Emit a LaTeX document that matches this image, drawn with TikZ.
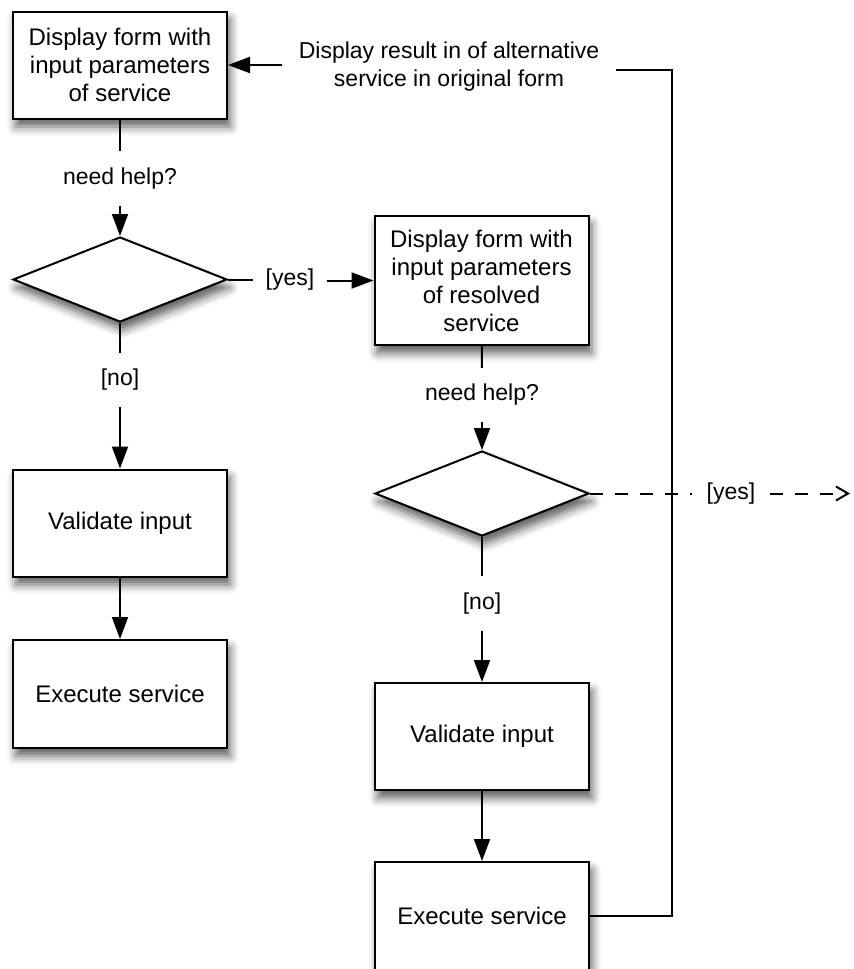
\documentclass[tikz,border=0pt]{standalone}
\usepackage{fontspec}
\setmainfont{Liberation Sans}
\usetikzlibrary{arrows.meta, positioning, shapes.geometric, shadows.blur}

\begin{document}
\begin{tikzpicture}[
    x=0.5pt, y=-0.5pt,
    soft/.style={blur shadow={shadow xshift=1.5pt, shadow yshift=-4pt, shadow blur radius=4.5pt, shadow opacity=65}},
    action/.style={draw, line width=1pt, fill=white, soft, minimum width=107pt, minimum height=53.5pt, inner sep=2pt, align=center, font=\fontsize{12}{14}\selectfont},
    decision/.style={draw, diamond, line width=1pt, fill=white, soft, minimum width=107pt, minimum height=42.5pt, inner sep=0pt},
    guard/.style={inner xsep=6pt, inner ysep=8pt, align=center, font=\fontsize{11.5}{14}\selectfont},
    line/.style={line width=1pt},
    arrow/.style={-{Triangle[length=11pt, width=8pt]}, line width=1pt},
    dasharrow/.style={dash pattern=on 6.5pt off 6pt, line width=1pt}
]
\useasboundingbox (0,0) rectangle (853,969);

% Original service
\node[action] (form1) at (120,65) {Display form with\\input parameters\\of service};
\node[guard] (help1) at (120,178.5) {need help?};
\node[decision] (ask1) at (120,279.5) {};
\node[guard] (no1) at (120,380) {[no]};
\node[action] (valid1) at (120,523) {Validate input};
\node[action, minimum height=54pt] (exec1) at (120,694) {Execute service};

% Resolved service
\node[guard] (yes1) at (290,280) {[yes]};
\node[action, minimum height=64.5pt] (form2) at (481.5,280.5) {Display form with\\input parameters\\of resolved\\service};
\node[guard] (help2) at (482,395) {need help?};
\node[decision] (ask2) at (482,493.5) {};
\node[guard] (no2) at (482,603.5) {[no]};
\node[action] (valid2) at (482,736.5) {Validate input};
\node[action, minimum height=54pt] (exec2) at (482,916) {Execute service};

% Return to original form
\node[guard, inner xsep=8pt] (back) at (449,67) {Display result in of alternative\\service in original form};
\coordinate (turn) at (672,70);

% Next level
\node[guard, inner xsep=7pt] (yes2) at (731,493.5) {[yes]};
\coordinate (onward) at (850,493.5);

% Left flow
\draw[line] (form1) -- (help1);
\draw[arrow] (help1) -- (ask1);
\draw[line] (ask1) -- (no1);
\draw[arrow] (no1) -- (valid1);
\draw[arrow] (valid1) -- (exec1);

% Right flow
\draw[line] (ask1.east) -- (yes1.west |- ask1.east);
\draw[arrow] (yes1.east |- form2.west) -- (form2.west);
\draw[line] (form2) -- (help2);
\draw[arrow] (help2) -- (ask2);
\draw[line] (ask2) -- (no2);
\draw[arrow] (no2) -- (valid2);
\draw[arrow] (valid2) -- (exec2);

% Loop back
\draw[line] (exec2.east) -| (turn) -- (back.east |- turn);
\draw[arrow] (back.west |- form1.east) -- (form1.east);

% Dashed yes
\draw[dasharrow] (ask2.east) -- (yes2.west);
\draw[dasharrow, -{Straight Barb[length=6pt, width=7pt]}] (yes2.east) -- (onward);

\end{tikzpicture}
\end{document}
